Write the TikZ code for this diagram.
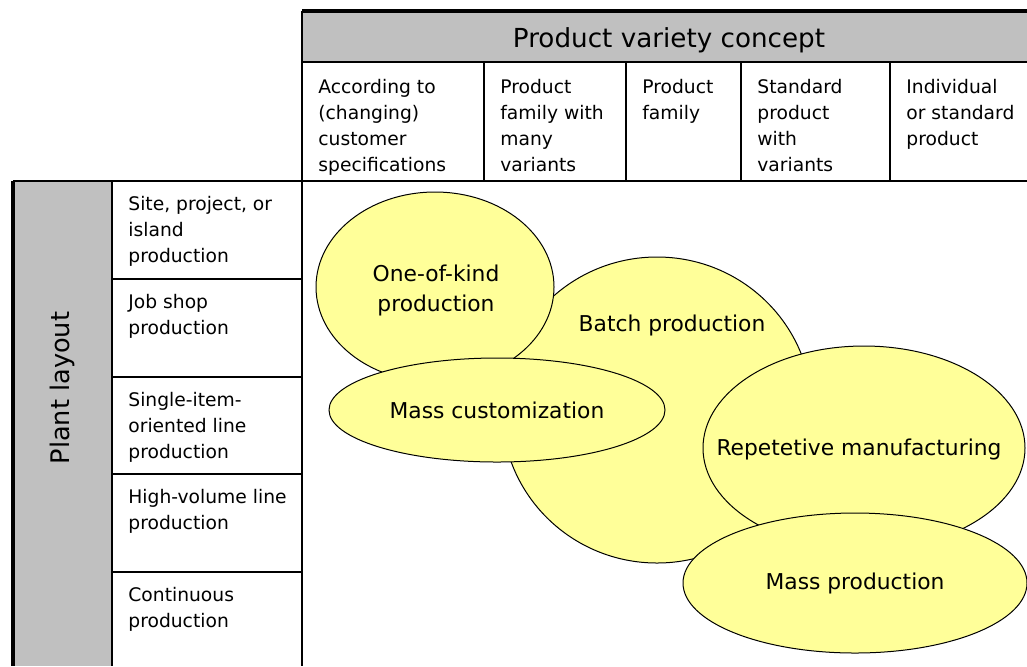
\documentclass[tikz,border=0pt]{standalone}
\usepackage{fontspec}
\setmainfont{DejaVu Sans}
\usetikzlibrary{shapes.geometric}
\definecolor{headgray}{HTML}{C0C0C0}
\definecolor{blobyellow}{HTML}{FFFF99}
\tikzset{
    rule/.style={line width=0.85pt},
    thickrule/.style={line width=2.2pt},
    cell/.style={anchor=north west, inner sep=0pt, align=left,
        font=\fontsize{9.35}{13}\selectfont},
    blob/.style={ellipse, draw, line width=0.5pt, fill=blobyellow, inner sep=0pt},
    blobtext/.style={align=center, inner sep=0pt, font=\fontsize{10.9}{15}\selectfont}
}
\begin{document}
\begin{tikzpicture}[x=0.5pt, y=-0.5pt]
    \useasboundingbox (0,0) rectangle (1027,666);
    \fill[headgray] (302,11) rectangle (1027,62);
    \fill[headgray] (13,181) rectangle (112,666);

    \draw[rule] (302,62) -- (1027,62);
    \draw[rule] (13,181) -- (1027,181);
    \draw[rule] (302,11) -- (302,666);
    \draw[rule] (112,181) -- (112,666);
    \foreach \x in {484,626,741,890}
        \draw[rule] (\x,62) -- (\x,181);
    \foreach \y in {279,377,474,572}
        \draw[rule] (112,\y) -- (302,\y);
    \draw[thickrule] (302,11) -- (1027,11);
    \draw[thickrule] (13,181) -- (13,666);

    \node[font=\fontsize{13.1}{16}\selectfont] (concept) at (669,40) {Product variety concept};
    \node[cell] (custspec) at (318,79) {According to\\(changing)\\customer\\specifications};
    \node[cell] (manyvar) at (500,79) {Product\\family with\\many\\variants};
    \node[cell] (family) at (642,79) {Product\\family};
    \node[cell] (stdvar) at (757,79) {Standard\\product\\with\\variants};
    \node[cell] (indstd) at (906,79) {Individual\\or standard\\product};

    \node[rotate=90, font=\fontsize{12.8}{15}\selectfont] (layout) at (62,388) {Plant layout};
    \node[cell] (site) at (128,196) {Site, project, or\\island\\production};
    \node[cell] (jobshop) at (128,294) {Job shop\\production};
    \node[cell] (singleline) at (128,392) {Single-item-\\oriented line\\production};
    \node[cell] (hvline) at (128,489) {High-volume line\\production};
    \node[cell] (continuous) at (128,587) {Continuous\\production};

    \node[blob, minimum width=155pt, minimum height=153pt] (batch) at (657,410) {};
    \node[blobtext] (batchtext) at (672,325) {Batch production};
    \node[blob, minimum width=119pt, minimum height=95pt] (onekind) at (435,287) {};
    \node[blobtext] (onekindtext) at (436,290) {One-of-kind\\production};
    \node[blob, minimum width=168pt, minimum height=52pt] (masscust) at (497,410) {};
    \node[blobtext] (masscusttext) at (masscust.center) {Mass customization};
    \node[blob, minimum width=161pt, minimum height=102pt] (repetitive) at (864,448) {};
    \node[blobtext] (repetitivetext) at (859,449) {Repetetive manufacturing};
    \node[blob, minimum width=172pt, minimum height=70pt] (massprod) at (855,583) {};
    \node[blobtext] (massprodtext) at (massprod.center) {Mass production};
\end{tikzpicture}
\end{document}
